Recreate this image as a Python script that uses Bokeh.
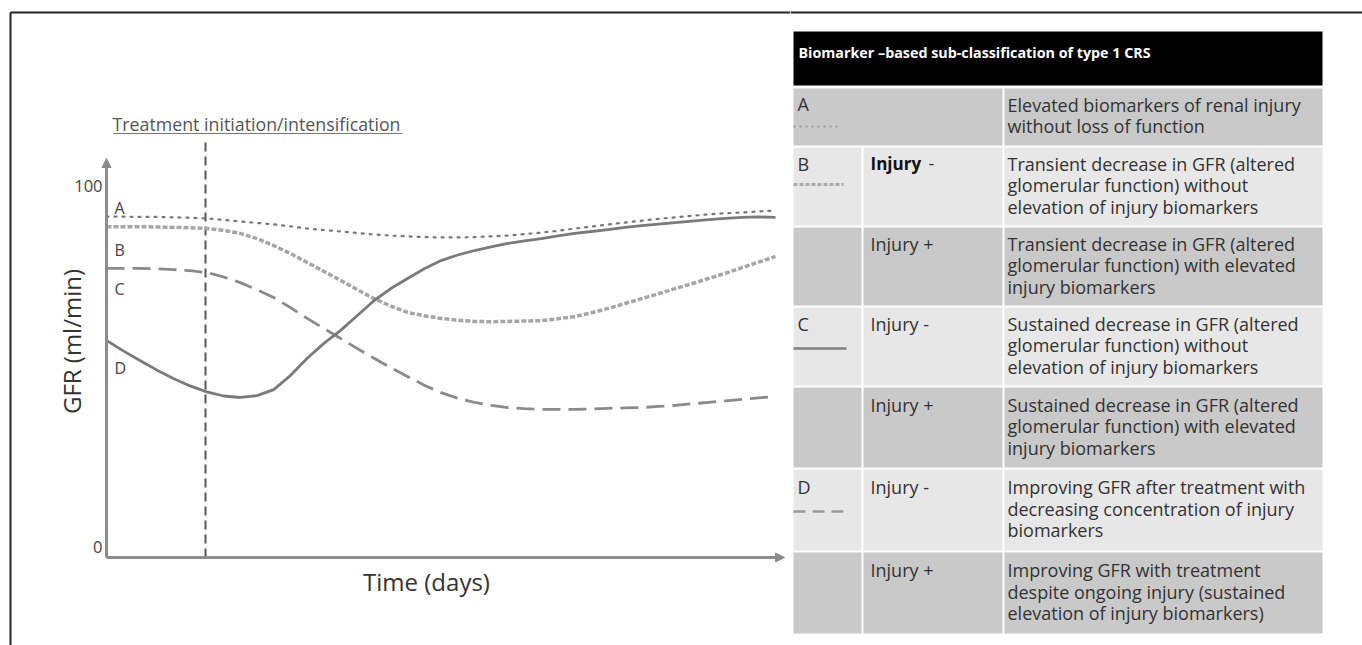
from bokeh.plotting import figure
from bokeh.models import Range1d, Arrow, NormalHead
from bokeh.layouts import row
from bokeh.embed import file_html
from bokeh.resources import INLINE
from bokeh.core.properties import value
import math

# ---------------- data ----------------
t = [0, 2.5, 5, 7.5, 10, 12.5, 15, 17.5, 20, 22.5, 25, 27.5, 30, 32.5, 35, 37.5, 40,
     42.5, 45, 47.5, 50, 52.5, 55, 57.5, 60, 62.5, 65, 67.5, 70, 72.5, 75, 77.5, 80,
     82.5, 85, 87.5, 90, 92.5, 95, 97.5, 100]
gfr_A = [91.4, 91.4, 91.3, 91.3, 91.2, 91.1, 90.9, 90.5, 90.1, 89.7, 89.3, 88.8, 88.2,
         87.8, 87.4, 87.0, 86.6, 86.3, 86.1, 85.9, 85.8, 85.8, 85.9, 86.1, 86.3, 86.7,
         87.1, 87.6, 88.2, 88.7, 89.3, 89.8, 90.3, 90.8, 91.2, 91.6, 92.0, 92.3, 92.5,
         92.8, 93.0]
gfr_B = [88.7, 88.7, 88.7, 88.6, 88.5, 88.4, 88.2, 87.7, 86.9, 85.5, 83.6, 81.5, 79.1,
         76.7, 74.3, 71.8, 69.4, 67.4, 65.7, 64.8, 64.1, 63.6, 63.3, 63.2, 63.3, 63.4,
         63.5, 64.0, 64.6, 65.6, 66.8, 68.1, 69.4, 70.7, 72.1, 73.4, 74.8, 76.2, 77.7,
         79.2, 80.7]
gfr_C = [77.5, 77.5, 77.5, 77.4, 77.2, 76.9, 76.4, 75.2, 73.7, 71.8, 69.7, 67.0, 64.1,
         61.4, 58.7, 56.0, 53.4, 50.9, 48.5, 46.2, 44.2, 42.7, 41.6, 40.8, 40.2, 39.9,
         39.7, 39.7, 39.7, 39.8, 40.0, 40.1, 40.2, 40.5, 40.8, 41.2, 41.6, 42.0, 42.4,
         42.8, 43.2]
gfr_D = [58.2, 55.4, 52.8, 50.3, 48.0, 46.0, 44.4, 43.3, 42.9, 43.4, 45.0, 48.8, 53.4,
         57.4, 60.9, 64.9, 68.9, 72.1, 74.8, 77.4, 79.6, 81.1, 82.3, 83.3, 84.2, 84.9,
         85.5, 86.2, 86.9, 87.4, 87.9, 88.5, 89.0, 89.4, 89.8, 90.2, 90.6, 90.9, 91.2,
         91.3, 91.2]
treat_t = 14.8
y_ticks = [0, 100]
y_tick_labels = ["0", "100"]
curve_names = ["A", "B", "C", "D"]

header = "Biomarker \u2013based sub-classification of type 1  CRS"
table_rows = [
    ("A", "", ["Elevated biomarkers of renal injury", "without loss of function"]),
    ("B", "Injury", ["Transient decrease  in GFR (altered", "glomerular function) without", "elevation of injury biomarkers"]),
    ("", "Injury +", ["Transient decrease in GFR (altered", "glomerular function) with elevated", "injury biomarkers"]),
    ("C", "Injury -", ["Sustained decrease in GFR (altered", "glomerular function) without", "elevation of injury biomarkers"]),
    ("", "Injury +", ["Sustained decrease in GFR (altered", "glomerular function) with elevated", "injury biomarkers"]),
    ("D", "Injury -", ["Improving GFR after treatment with", "decreasing concentration of injury", "biomarkers"]),
    ("", "Injury +", ["Improving GFR with treatment", "despite ongoing injury (sustained", "elevation of injury biomarkers)"]),
]

FONT = value("Open Sans")
W, H = 1362, 645
CW = 790  # chart panel width

# ---------------- chart panel ----------------
X0, SX = 106.0, 6.69   # pixel of t=0, px per unit
Y0, SY = 557.0, 3.73   # pixel of gfr=0, px per unit


def X(px):
    return (px - X0) / SX


def Y(py):
    return (Y0 - py) / SY


p = figure(width=CW, height=H, output_backend="svg", toolbar_location=None,
           x_range=Range1d(X(0), X(CW)), y_range=Range1d(Y(H), Y(0)),
           x_axis_location=None, y_axis_location=None, min_border=0,
           tools="")
p.outline_line_color = None
p.grid.visible = False
p.background_fill_color = "white"
p.border_fill_color = "white"

# frame border lines (top/left)
p.segment(x0=[X(10), X(10)], y0=[Y(12), Y(12)], x1=[X(CW), X(10)], y1=[Y(12), Y(H)],
          line_color="#222222", line_width=2)

# axes with arrow heads
ax_col = "#8c8c8c"
p.add_layout(Arrow(end=NormalHead(size=9, fill_color=ax_col, line_color=ax_col),
                   x_start=0, y_start=0, x_end=0, y_end=Y(158),
                   line_color=ax_col, line_width=3))
p.add_layout(Arrow(end=NormalHead(size=9, fill_color=ax_col, line_color=ax_col),
                   x_start=0, y_start=0, x_end=X(784), y_end=0,
                   line_color=ax_col, line_width=3))

# tick labels
p.text(x=[X(102)] * 2, y=y_ticks, text=y_tick_labels, text_align="right",
       text_baseline="middle", y_offset=[-11, 1], text_font=FONT,
       text_font_size="16.5px", text_color="#444444")

# treatment line
p.segment(x0=[treat_t], y0=[0], x1=[treat_t], y1=[Y(140)], line_color="#555555",
          line_width=2, line_dash="9 5")
p.text(x=[X(112)], y=[Y(123)], text=["Treatment initiation/intensification"],
       text_align="left", text_baseline="middle", text_font=FONT,
       text_font_size="17.8px", text_color="#555555")
p.segment(x0=[X(113)], y0=[Y(133)], x1=[X(402)], y1=[Y(133)], line_color="#777777",
          line_width=1)

# curves
p.line(t, gfr_A, line_color="#777777", line_width=2.2, line_dash="2 6", line_cap="round")
p.line(t, gfr_B, line_color="#a6a6a6", line_width=3.5, line_dash="5 2", line_join="round")
p.line(t, gfr_C, line_color="#8a8a8a", line_width=2.8, line_dash="18 8", line_join="round")
p.line(t, gfr_D, line_color="#7a7a7a", line_width=2.8, line_join="round")

# curve letters
p.text(x=[X(114)] * 4, y=[Y(207), Y(249), Y(288), Y(367)], text=curve_names,
       text_align="left", text_baseline="middle", text_font=FONT,
       text_font_size="16px", text_color="#444444")

# axis titles
p.text(x=[X(71)], y=[Y(341)], text=["GFR (ml/min)"], angle=math.pi / 2,
       text_align="center", text_baseline="middle", text_font=FONT,
       text_font_size="24px", text_color="#333333")
p.text(x=[X(426)], y=[Y(581)], text=["Time (days)"], text_align="center",
       text_baseline="middle", text_font=FONT, text_font_size="24px",
       text_color="#333333")

# ---------------- table panel ----------------
q = figure(width=W - CW, height=H, output_backend="svg", toolbar_location=None,
           x_range=Range1d(CW, W), y_range=Range1d(H, 0),
           x_axis_location=None, y_axis_location=None, min_border=0, tools="")
q.outline_line_color = None
q.grid.visible = False
q.background_fill_color = "white"
q.border_fill_color = "white"

q.segment(x0=[CW], y0=[12], x1=[W], y1=[12], line_color="#222222", line_width=2)

c1, c2, c3, c4 = 793, 862, 1003, 1322
dark, light = "#c9c9c9", "#e7e7e7"
tops = [88, 147, 227, 307, 387, 469, 552]
bots = [145, 225, 305, 385, 467, 550, 633]

q.quad(left=[c1], right=[c4], top=[31], bottom=[85], fill_color="black", line_color=None)
q.text(x=[c1 + 5], y=[52], text=[header], text_align="left", text_baseline="middle",
       text_font=FONT, text_font_style="bold", text_font_size="14.3px", text_color="white")

L, R, T, B, C = [], [], [], [], []
for i, (lab, inj, lines) in enumerate(table_rows):
    col = dark if i % 2 == 0 else light
    if i == 0:
        L += [c1, c3 + 1]
        R += [c3 - 1, c4]
        T += [tops[i]] * 2
        B += [bots[i]] * 2
        C += [col] * 2
    else:
        L += [c1, c2 + 1, c3 + 1]
        R += [c2 - 1, c3 - 1, c4]
        T += [tops[i]] * 3
        B += [bots[i]] * 3
        C += [col] * 3
q.quad(left=L, right=R, top=T, bottom=B, fill_color=C, line_color=None)

lh = 21.5
fs = "18px"
tx, ty, tt = [], [], []
for i, (lab, inj, lines) in enumerate(table_rows):
    mid = (tops[i] + bots[i]) / 2 - 1.5
    first = mid - lh * (len(lines) - 1) / 2
    for k, s in enumerate(lines):
        tx.append(c3 + 4)
        ty.append(first + k * lh)
        tt.append(s)
    if i == 0:
        first = tops[i] + 15
    if lab:
        tx.append(c1 + 4)
        ty.append(first)
        tt.append(lab)
    if inj and i != 1:
        tx.append(c2 + 8)
        ty.append(first)
        tt.append(inj)
    if i == 1:
        q.text(x=[c2 + 8], y=[first], text=[inj], text_align="left", text_baseline="middle",
               text_font=FONT, text_font_style="bold", text_font_size="17px",
               text_color="#111111")
        tx.append(c2 + 66)
        ty.append(first)
        tt.append("-")
q.text(x=tx, y=ty, text=tt, text_align="left", text_baseline="middle", text_font=FONT,
       text_font_size=fs, text_color="#333333")

# legend samples in first column
q.line([c1, c1 + 48], [126, 126], line_color="#999999", line_width=2, line_dash="2 4")
q.line([c1, c1 + 50], [184, 184], line_color="#aaaaaa", line_width=3, line_dash="4 2")
q.line([c1, c1 + 53], [348, 348], line_color="#808080", line_width=2.5)
q.line([c1, c1 + 53], [511, 511], line_color="#999999", line_width=2.5, line_dash="12 7")

layout = row(p, q)
open("out.html", "w").write(file_html(layout, INLINE))
